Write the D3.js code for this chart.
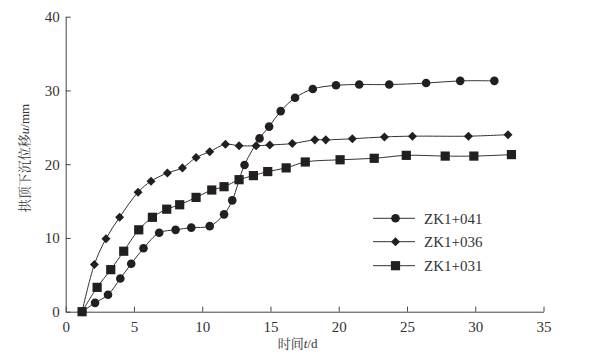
<!DOCTYPE html>
<html><head><meta charset="utf-8">
<script src="https://cdn.jsdelivr.net/npm/d3@7"></script>
<style>body{margin:0;background:#fff;} svg{display:block;}</style>
</head><body>
<svg id="c" width="606" height="362"></svg>
<script>
// ---- data ----
const seriesNames = ["ZK1+041", "ZK1+036", "ZK1+031"];
const timeA = [1.2, 2.15, 3.1, 4.0, 4.8, 5.7, 6.85, 8.05, 9.2, 10.55, 11.6, 12.2, 13.1, 14.2, 14.9, 15.75, 16.8, 18.1, 19.8, 21.5, 23.7, 26.4, 28.9, 31.4];
const valA  = [0, 1.2, 2.3, 4.5, 6.5, 8.6, 10.7, 11.1, 11.4, 11.6, 13.2, 15.1, 19.9, 23.5, 25.1, 27.2, 29.0, 30.2, 30.7, 30.8, 30.8, 31.0, 31.3, 31.3];
const timeB = [1.2, 2.1, 2.95, 3.95, 5.3, 6.25, 7.45, 8.55, 9.55, 10.55, 11.7, 12.7, 13.95, 14.95, 16.6, 18.25, 19.05, 21.0, 23.35, 25.4, 29.5, 32.4];
const valB  = [0, 6.4, 9.9, 12.8, 16.2, 17.7, 18.8, 19.5, 20.9, 21.7, 22.7, 22.5, 22.5, 22.6, 22.8, 23.3, 23.3, 23.45, 23.7, 23.8, 23.8, 24.0];
const timeC = [1.2, 2.3, 3.3, 4.25, 5.35, 6.35, 7.4, 8.35, 9.55, 10.7, 11.6, 12.7, 13.75, 14.8, 16.15, 17.55, 20.1, 22.6, 24.95, 27.8, 29.9, 32.65];
const valC  = [0, 3.3, 5.7, 8.2, 11.1, 12.8, 13.9, 14.5, 15.5, 16.5, 16.95, 17.9, 18.45, 19.0, 19.5, 20.3, 20.6, 20.8, 21.2, 21.1, 21.1, 21.3];
const xTicks = [0, 5, 10, 15, 20, 25, 30, 35];
const yTicks = [0, 10, 20, 30, 40];
const xTitle = ["时间", "t", "/d"];
const yTitle = ["拱顶下沉位移", "u", "/mm"];
const markers = ["circle", "diamond", "square"];

// ---- layout ----
const svg = d3.select("#c");
const X0 = 65.7, X1 = 543.5, Y0 = 311.7, Y1 = 16.7;
const x = d3.scaleLinear().domain([0, 35]).range([X0, X1]);
const y = d3.scaleLinear().domain([0, 40]).range([Y0, Y1]);
const ink = "#231f20";
const SERIF = '"Liberation Serif"';
const CJK = '"Noto Serif CJK SC"';

// axes
const xAxis = d3.axisBottom(x).tickValues(xTicks).tickSizeInner(-5).tickSizeOuter(0).tickPadding(10);
const gx = svg.append("g").attr("transform", `translate(0,${Y0})`).call(xAxis);
const yAxis = d3.axisLeft(y).tickValues(yTicks).tickSizeInner(-5).tickSizeOuter(0).tickPadding(6);
const gy = svg.append("g").attr("transform", `translate(${X0},0)`).call(yAxis);
[gx, gy].forEach(g => {
  g.attr("font-family", null).attr("font-size", null);
  g.select(".domain").attr("stroke", "#444").attr("stroke-width", 1);
  g.selectAll(".tick line").attr("stroke", "#444");
  g.selectAll(".tick text").attr("fill", "#333").style("font-family", SERIF).style("font-size", "15px");
});
gy.selectAll(".tick text").attr("x", -6);

// titles
const xt = svg.append("text").attr("x", (x(0)+x(35))/2 - 7).attr("y", 348)
  .attr("text-anchor", "middle").style("font-family", SERIF).style("font-size", "13px").attr("fill", "#333");
xt.append("tspan").style("font-family", CJK).text(xTitle[0]);
xt.append("tspan").style("font-style", "italic").text(xTitle[1]);
xt.append("tspan").text(xTitle[2]);

const yt = svg.append("text").attr("transform", `translate(29,158) rotate(-90)`)
  .attr("text-anchor", "middle").style("font-family", SERIF).style("font-size", "13px").attr("fill", "#333");
yt.append("tspan").style("font-family", CJK).text(yTitle[0]);
yt.append("tspan").style("font-style", "italic").text(yTitle[1]);
yt.append("tspan").text(yTitle[2]);

// series
const data = [
  timeA.map((t, i) => [t, valA[i]]),
  timeB.map((t, i) => [t, valB[i]]),
  timeC.map((t, i) => [t, valC[i]])
];
const line = d3.line().x(d => x(d[0])).y(d => y(d[1])).curve(d3.curveCatmullRom.alpha(0.5));

function drawMarker(g, type, cx, cy) {
  if (type === "circle") g.append("circle").attr("cx", cx).attr("cy", cy).attr("r", 4.3).attr("fill", ink);
  else if (type === "diamond") g.append("path").attr("d", d3.symbol(d3.symbolDiamond2, 52)()).attr("transform", `translate(${cx},${cy})`).attr("fill", ink);
  else g.append("rect").attr("x", cx-4.6).attr("y", cy-4.6).attr("width", 9.2).attr("height", 9.2).attr("fill", ink);
}

data.forEach(s => {
  svg.append("path").datum(s).attr("d", line).attr("fill", "none").attr("stroke", "#333").attr("stroke-width", 1);
});
data.forEach((s, k) => {
  const g = svg.append("g");
  s.forEach(d => drawMarker(g, markers[k], x(d[0]), y(d[1])));
});

// legend
const legY = [218.3, 241.7, 265.7];
seriesNames.forEach((n, k) => {
  const g = svg.append("g");
  g.append("line").attr("x1", 373).attr("x2", 415).attr("y1", legY[k]).attr("y2", legY[k]).attr("stroke", "#333").attr("stroke-width", 1);
  drawMarker(g, markers[k], 395.5, legY[k]);
  g.append("text").attr("x", 424).attr("y", legY[k]).attr("dy", "0.36em")
    .style("font-family", SERIF).style("font-size", "15px").attr("fill", "#333").text(n);
});
</script>
</body></html>
